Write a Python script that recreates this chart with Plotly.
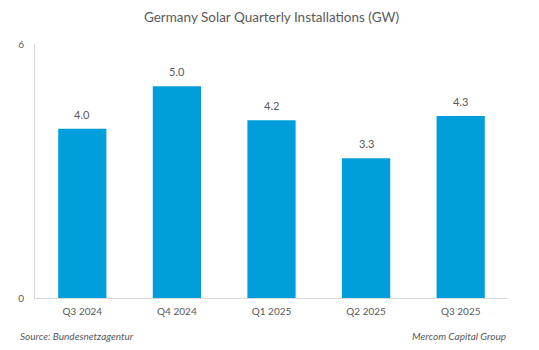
import plotly.graph_objects as go

categories = ["Q3 2024", "Q4 2024", "Q1 2025", "Q2 2025", "Q3 2025"]
values = [4.0, 5.0, 4.2, 3.3, 4.3]
labels = ["4.0", "5.0", "4.2", "3.3", "4.3"]

FONT = "Lato, Open Sans, sans-serif"
GRAY = "#595959"

fig = go.Figure()
fig.add_trace(go.Bar(x=categories, y=values, marker_color="#009FDC",
                     marker_line_width=0, hoverinfo="skip"))

for c, v, t in zip(categories, values, labels):
    fig.add_annotation(x=c, y=v, text=t, showarrow=False, yanchor="bottom",
                       yshift=6, font=dict(size=11, color=GRAY, family=FONT))

fig.add_annotation(xref="paper", yref="paper", x=-0.035, y=-0.148, xanchor="left",
                   yanchor="middle", text="<i>Source: Bundesnetzagentur</i>",
                   showarrow=False, font=dict(size=10, color=GRAY, family=FONT))
fig.add_annotation(xref="paper", yref="paper", x=1.0, y=-0.148, xanchor="right",
                   yanchor="middle", text="<i>Mercom Capital Group</i>",
                   showarrow=False, font=dict(size=10, color=GRAY, family=FONT))

fig.update_layout(
    width=539, height=350,
    margin=dict(l=35, r=31, t=44, b=52),
    paper_bgcolor="white", plot_bgcolor="white",
    bargap=0.49,
    showlegend=False,
    title=dict(text="Germany Solar Quarterly Installations (GW)", x=0.5, xref="paper",
               y=0.95, yanchor="middle", xanchor="center",
               font=dict(size=13.5, color=GRAY, family=FONT)),
    xaxis=dict(showline=True, linecolor="#D9D9D9", linewidth=1, showgrid=False,
               ticks="", ticklabelstandoff=4,
               tickfont=dict(size=10, color=GRAY, family=FONT)),
    yaxis=dict(range=[0, 6], tickvals=[0, 6], ticktext=["0", "6"], showgrid=False,
               zeroline=False, showline=True, linecolor="#D9D9D9", linewidth=1,
               ticks="", ticklabelstandoff=8,
               tickfont=dict(size=10, color=GRAY, family=FONT)),
)

fig.write_html("out.html")
